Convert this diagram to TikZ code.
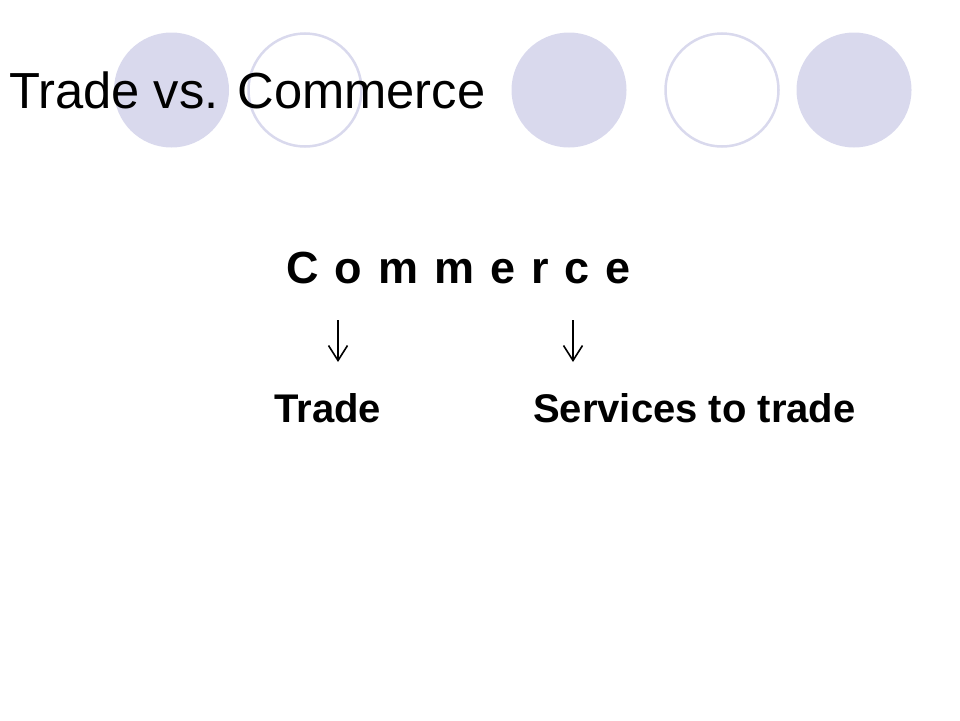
\documentclass[tikz,border=0pt]{standalone}
\usepackage{fontspec}
\setmainfont{Liberation Sans}
\usetikzlibrary{arrows.meta, positioning}
\definecolor{lilac}{RGB}{217,217,237}

\begin{document}
\begin{tikzpicture}[x=1pt, y=-1pt,
	dot/.style={fill=lilac},
	ring/.style={draw=lilac, line width=2.5pt},
	word/.style={anchor=base west, inner sep=0pt, font=\bfseries\fontsize{40}{48}\selectfont},
	darr/.style={line width=1.6pt, -{Straight Barb[length=15pt, width=19pt]}}]
	\useasboundingbox (0,0) rectangle (960,720);
	% background circles
	\foreach \cx in {171.5, 569, 854}
		\fill[dot] (\cx,90) circle[radius=57.5];
	\foreach \cx in {305, 722}
		\draw[ring] (\cx,90) circle[radius=56.5];
	\node[anchor=base west, inner sep=0pt, font=\fontsize{50.7}{60}\selectfont] (title) at (9,108) {Trade vs. Commerce};
	\node[word, font=\bfseries\fontsize{45}{54}\selectfont] (comm) at (286,283) {\spaceskip=16pt\relax C o m m e r c e};
	\node[word] (trade) at (274,422) {Trade};
	\node[word] (serv) at (533,422) {Services to trade};
	\coordinate (ltop) at (338,320);
	\coordinate (lbot) at (338,362);
	\coordinate (rtop) at (573,320);
	\coordinate (rbot) at (573,362);
	\draw[darr] (ltop) -- (lbot);
	\draw[darr] (rtop) -- (rbot);
\end{tikzpicture}
\end{document}
